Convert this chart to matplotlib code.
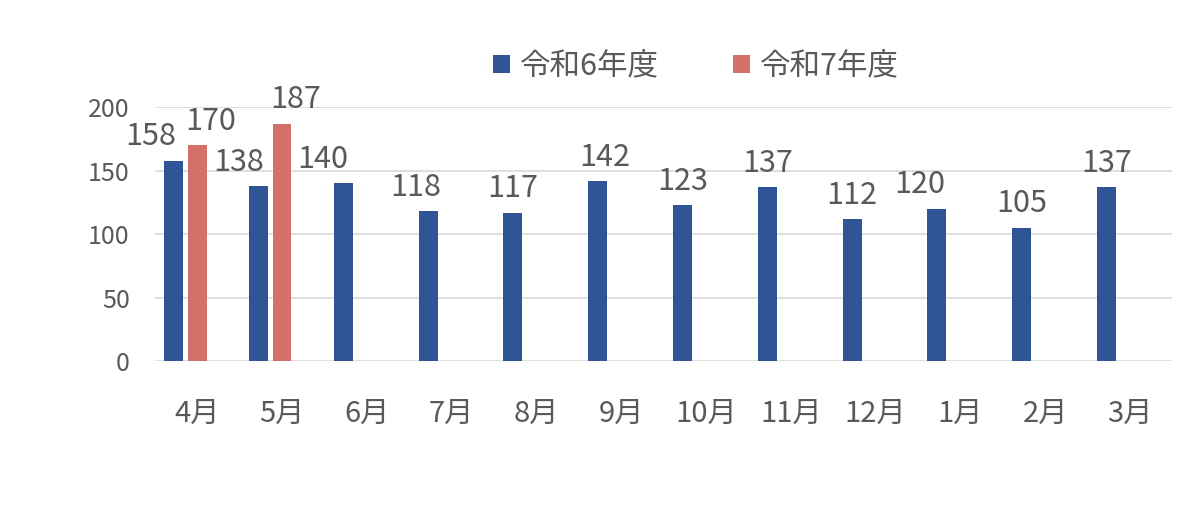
import matplotlib
matplotlib.use('Agg')
from matplotlib import pyplot as plt
import numpy as np

# Data
months = ['4月', '5月', '6月', '7月', '8月', '9月', '10月', '11月', '12月', '1月', '2月', '3月']
r6 = [158, 138, 140, 118, 117, 142, 123, 137, 112, 120, 105, 137]
r7 = [170, 187]
series_names = ['令和6年度', '令和7年度']

# label nudges (px) - labels sit a little off-centre in the original
nudge6 = [-23, -20, -21, -12, 0, 7, 0, 0, 0, -17, 0, 0]
nudge7 = [13, 14]

plt.rcParams['font.family'] = ['Noto Sans CJK JP', 'DejaVu Sans']
text_col = '#595959'
blue = '#2F5597'
red = '#D4706A'

fig = plt.figure(figsize=(12, 5.18), dpi=100)
ax = fig.add_axes([0.129, 0.303, 0.848, 0.49])

x = np.arange(len(months))
w = 0.224
b1 = ax.bar(x - 0.277, r6, width=w, color=blue, label=series_names[0], zorder=3)
b2 = ax.bar(x[:len(r7)], r7, width=w, color=red, label=series_names[1], zorder=3)

# data labels
for bars, vals, nud in [(b1, r6, nudge6), (b2, r7, nudge7)]:
    for rect, v, n in zip(bars, vals, nud):
        ax.annotate(str(v), (rect.get_x() + rect.get_width() / 2, v),
                    xytext=(n * 0.72, 6), textcoords='offset points',
                    ha='center', va='bottom', fontsize=22, color=text_col)

ax.set_xlim(-0.5, 11.5)
ax.set_ylim(0, 200)
ax.set_yticks([0, 50, 100, 150, 200])
ax.set_xticks(x)
ax.set_xticklabels(months)
ax.tick_params(axis='x', labelsize=21, colors=text_col, length=0, pad=27)
ax.tick_params(axis='y', labelsize=18, colors=text_col, length=0, pad=18)
ax.grid(axis='y', color='#d9d9d9', linewidth=1.2, zorder=0)
for s in ax.spines.values():
    s.set_visible(False)

leg = fig.legend(loc='center', bbox_to_anchor=(0.58, 0.872), ncol=2, frameon=False,
                 fontsize=22, handlelength=0.55, handleheight=0.55, handletextpad=0.35,
                 columnspacing=2.4)
for t in leg.get_texts():
    t.set_color(text_col)

fig.savefig('out.png', dpi=100)
